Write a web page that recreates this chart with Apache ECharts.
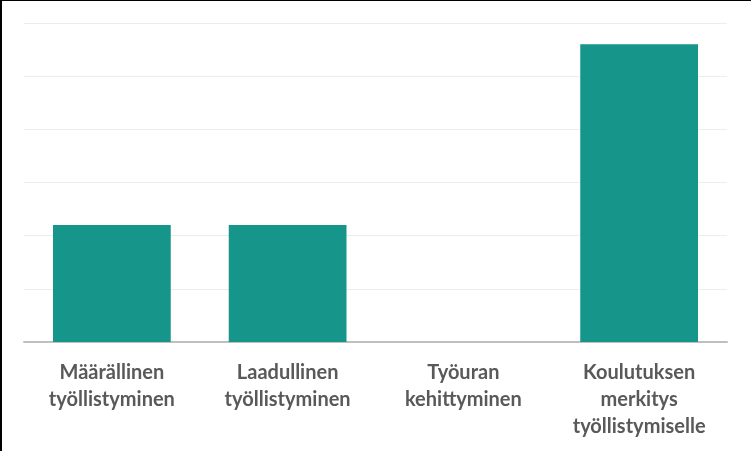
<!DOCTYPE html>
<html><head><meta charset="utf-8">
<script src="https://cdn.jsdelivr.net/npm/echarts@6/dist/echarts.min.js"></script>
<style>html,body{margin:0;padding:0;background:#fff}#c{width:751px;height:451px}</style>
</head><body><div id="c"></div>
<script>
const categories = ["Määrällinen\ntyöllistyminen", "Laadullinen\ntyöllistyminen", "Työuran\nkehittyminen", "Koulutuksen\nmerkitys\ntyöllistymiselle"];
const values = [2.2, 2.2, 0, 5.6];
const axisMax = 6;
const axisStep = 1;

const chart = echarts.init(document.getElementById('c'), null, {renderer: 'canvas'});
chart.setOption({
  animation: false,
  backgroundColor: '#fff',
  grid: {left: 24, right: 24, top: 23, bottom: 109},
  xAxis: {
    type: 'category',
    data: categories,
    axisTick: {show: false},
    axisLine: {lineStyle: {color: '#bfbfbf', width: 2}},
    axisLabel: {
      interval: 0, margin: 17, color: '#595959',
      fontFamily: 'Lato', fontWeight: 'bold', fontSize: 20, lineHeight: 27
    }
  },
  yAxis: {
    type: 'value', min: 0, max: axisMax, interval: axisStep,
    axisLabel: {show: false}, axisLine: {show: false}, axisTick: {show: false},
    splitLine: {lineStyle: {color: '#ededed', width: 1}}
  },
  series: [{
    type: 'bar', data: values, barCategoryGap: '33%',
    itemStyle: {color: '#16968a'}
  }],
  graphic: [
    {type: 'rect', left: 0, top: 0, shape: {width: 2, height: 451}, style: {fill: '#000'}},
    {type: 'rect', left: 0, top: 0, shape: {width: 751, height: 1}, style: {fill: '#000'}}
  ]
});
</script></body></html>
